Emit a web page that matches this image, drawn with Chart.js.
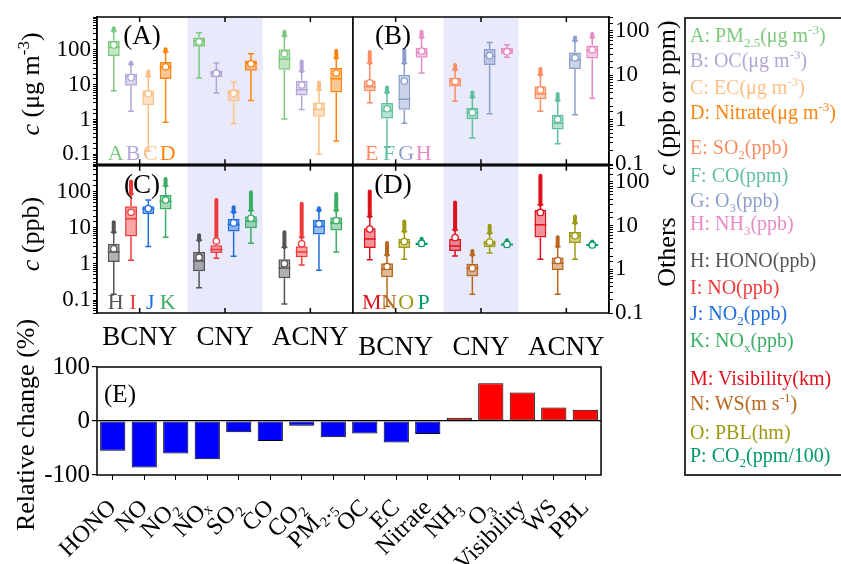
<!DOCTYPE html>
<html>
<head>
<meta charset="utf-8">
<script src="https://cdn.jsdelivr.net/npm/chart.js@4.4.0/dist/chart.umd.min.js"></script>
<style>
body{margin:0;width:841px;height:564px;overflow:hidden;background:#fff;position:relative;font-family:"Liberation Serif","DejaVu Serif",serif}
canvas{position:absolute}
.t{position:absolute;white-space:nowrap;font-size:26px;color:#000;line-height:1;transform:translate(-50%,-50%) rotate(-90deg)}
#legend{position:absolute;left:684px;top:17px;width:180px;height:459px;border:2px solid #333;box-sizing:border-box}
#legend div{position:absolute;left:4px;font-size:20px;line-height:22px;white-space:nowrap}
sub,sup{font-size:65%;line-height:0}
</style>
</head>
<body>
<canvas id="cA" width="353" height="180" style="left:0;top:0"></canvas>
<canvas id="cB" width="313" height="180" style="left:350px;top:0"></canvas>
<canvas id="cC" width="353" height="205" style="left:0;top:150px"></canvas>
<canvas id="cD" width="313" height="214" style="left:350px;top:150px"></canvas>
<canvas id="cE" width="620" height="214" style="left:0;top:350px"></canvas>

<div class="t" style="left:31px;top:84px"><i>c</i> (μg m<sup>-3</sup>)</div>
<div class="t" style="left:31px;top:234px"><i>c</i> (ppb)</div>
<div class="t" style="left:26px;top:425px">Relative change (%)</div>
<div class="t" style="left:667px;top:98px"><i>c</i> (ppb or ppm)</div>
<div class="t" style="left:667px;top:252px">Others</div>

<div id="legend">
  <div style="top:5px;color:#7cc87c">A: PM<sub>2.5</sub>(μg m<sup>-3</sup>)</div>
  <div style="top:30px;color:#b3a6d6">B: OC(μg m<sup>-3</sup>)</div>
  <div style="top:57px;color:#fdbf86">C: EC(μg m<sup>-3</sup>)</div>
  <div style="top:82px;color:#ff8311">D: Nitrate(μg m<sup>-3</sup>)</div>
  <div style="top:117px;color:#fc8d62">E: SO<sub>2</sub>(ppb)</div>
  <div style="top:145px;color:#5fc19b">F: CO(ppm)</div>
  <div style="top:170px;color:#8c9fcb">G: O<sub>3</sub>(ppb)</div>
  <div style="top:193px;color:#e88ac4">H: NH<sub>3</sub>(ppb)</div>
  <div style="top:230px;color:#555555">H: HONO(ppb)</div>
  <div style="top:257px;color:#f03a3a">I: NO(ppb)</div>
  <div style="top:283px;color:#1f6ee0">J: NO<sub>2</sub>(ppb)</div>
  <div style="top:310px;color:#3aae65">K: NO<sub>x</sub>(ppb)</div>
  <div style="top:348px;color:#e0101a">M: Visibility(km)</div>
  <div style="top:373px;color:#b8671d">N: WS(m s<sup>-1</sup>)</div>
  <div style="top:402px;color:#9d9a12">O: PBL(hm)</div>
  <div style="top:425px;color:#009a63">P: CO<sub>2</sub>(ppm/100)</div>
</div>

<script>
const FONT = '"Liberation Serif", "DejaVu Serif", serif';

const periods = ['BCNY', 'CNY', 'ACNY'];

// each row: [low whisker, q1, median, q3, high whisker, max outlier, mean]
const pm25 = [[6.7, 67, 119, 184, 348, 417, 139], [15.5, 124, 177, 225, 312, 312, 170], [1.04, 26.8, 55, 105, 251, 333, 77]];
const oc = [[1.73, 9.35, 17.3, 20.6, 38.5, 43.4, 16.2], [5.8, 16.6, 22.5, 25.6, 41.7, 41.7, 21.4], [1.93, 4.9, 7.2, 13, 24, 46, 9.8]];
const ec = [[0.125, 2.63, 5.2, 6.9, 17.3, 24, 5.5], [0.77, 3.3, 6.0, 7.2, 12, 12, 5.7], [0.1, 1.2, 1.93, 3.1, 7.2, 11.6, 2.4]];
const nitrate = [[0.84, 14.6, 32, 44.5, 89, 105, 32.6], [3.5, 25.2, 41.7, 49.4, 77, 77, 40], [0.24, 6.0, 14.9, 30, 58, 95, 21.6]];

const so2 = [[2.4, 4.4, 5.5, 7.6, 18.6, 33.5, 6.8], [2.6, 5.6, 7.4, 8.7, 13.3, 17.1, 7.3], [1.55, 2.9, 3.8, 5.7, 10.3, 13.8, 4.7]];
const co = [[0.24, 1.07, 1.6, 2.37, 4.1, 5.3, 1.77], [0.39, 1.02, 1.45, 1.84, 3.2, 4.1, 1.45], [0.29, 0.6, 0.83, 1.3, 2.7, 3.8, 1.03]];
const o3 = [[0.83, 1.68, 2.9, 10.3, 18.7, 37.8, 7.4], [1.36, 17, 27, 39, 55, 55, 28], [1.3, 13.8, 22, 32.5, 60, 71, 24.7]];
const nh3 = [[11.2, 24.7, 32, 41.7, 71, 96, 35.2], [25.6, 30, 36, 41, 49, 49, 34], [3.05, 24, 36.5, 47, 71, 84.6, 37.5]];

const hono = [[0.145, 1.13, 2.13, 3.63, 7.6, 14.3, 2.63], [0.22, 0.63, 1.2, 2.13, 4.5, 6.2, 1.54], [0.078, 0.4, 0.77, 1.34, 2.9, 7.6, 1.02]];
const no = [[1.26, 5.75, 17.7, 39.4, 86, 192, 26.9], [1.45, 2.0, 2.5, 3.28, 4.0, 59, 4.3], [0.93, 1.54, 2.13, 3.1, 5.5, 46, 3.63]];
const no2 = [[3.05, 24.2, 33.4, 39.4, 59, 59, 34], [1.63, 7.9, 12.3, 17.7, 26.9, 37, 13.7], [0.67, 6.55, 10.9, 16.6, 30, 34.7, 12.9]];
const nox = [[5.5, 31.9, 54, 81, 146, 224, 59], [3.76, 9.8, 15.2, 20.9, 30, 96, 18.4], [2.13, 8.4, 13.7, 19.6, 30, 86, 15.9]];

const vis = [[1.64, 3.05, 4.9, 8.7, 16.1, 60, 8.3], [2.0, 2.6, 3.4, 4.9, 8.0, 33.6, 5.3], [1.7, 5.3, 10.4, 22.9, 30, 137, 19.9]];
const ws = [[0.14, 0.66, 1.0, 1.38, 2.13, 4.0, 1.16], [0.27, 0.68, 1.06, 1.33, 2.13, 2.6, 1.06], [0.27, 0.96, 1.38, 1.85, 3.3, 5.4, 1.58]];
const pbl = [[1.7, 3.05, 4.1, 5.0, 7.3, 12.4, 4.3], [2.36, 3.2, 3.9, 4.47, 6.7, 9.9, 4.2], [1.7, 4.0, 5.8, 7.1, 11.3, 16.1, 5.8]];
const co2 = [[3.4, 3.6, 3.85, 4.1, 4.4, 5.0, 3.9], [3.3, 3.5, 3.7, 3.9, 4.2, 4.6, 3.7], [3.2, 3.4, 3.6, 3.8, 4.0, 4.3, 3.6]];

const changeLabels = ['HONO', 'NO', 'NO₂', 'NOₓ', 'SO₂', 'CO', 'CO₂', 'PM₂.₅', 'OC', 'EC', 'Nitrate', 'NH₃', 'O₃', 'Visibility', 'WS', 'PBL'];
const changeValues = [-55, -86, -60, -71, -21, -37, -9, -30, -23, -40, -24, 6, 70, 53, 25, 21];

Chart.defaults.color = '#000';
Chart.defaults.animation = false;
Chart.defaults.font.family = FONT;

function rgba(hex, a) {
	let n = parseInt(hex.slice(1), 16);
	return 'rgba(' + (n >> 16) + ',' + ((n >> 8) & 255) + ',' + (n & 255) + ',' + a + ')';
}

//рамка вокруг области графика и внутренние засечки
const framePlugin = {
	id: 'frame',
	afterDraw(chart, args, opts) {
		let ctx = chart.ctx;
		let a = chart.chartArea;
		ctx.save();
		ctx.strokeStyle = '#000';
		ctx.lineWidth = 1.5;
		ctx.strokeRect(a.left, a.top, a.right - a.left, a.bottom - a.top);
		if (opts.innerTicks) {
			let x = chart.scales.x;
			for (let i = 0; i < chart.data.labels.length; i++) {
				let px = x.getPixelForValue(i);
				ctx.beginPath();
				ctx.moveTo(px, a.top);
				ctx.lineTo(px, a.top + 5);
				ctx.moveTo(px, a.bottom);
				ctx.lineTo(px, a.bottom - 5);
				ctx.stroke();
			}
		}
		ctx.restore();
	}
};

//полоса CNY
const shadePlugin = {
	id: 'shade',
	beforeDatasetsDraw(chart) {
		let ctx = chart.ctx;
		let a = chart.chartArea;
		let x = chart.scales.x;
		let c = x.getPixelForValue(1);
		let half = 0.44 * (x.getPixelForValue(1) - x.getPixelForValue(0));
		ctx.save();
		ctx.fillStyle = '#e8eafc';
		ctx.fillRect(c - half, a.top, half * 2, a.bottom - a.top);
		ctx.restore();
	}
};

//усы, выбросы, медиана и среднее
const boxPlugin = {
	id: 'boxes',
	afterDatasetsDraw(chart) {
		let ctx = chart.ctx;
		let y = chart.scales.y;
		ctx.save();
		chart.data.datasets.forEach((ds, di) => {
			let meta = chart.getDatasetMeta(di);
			ds.stats.forEach((s, i) => {
				let bar = meta.data[i];
				let x = bar.x;
				let w = bar.width;
				let [lo, q1, med, q3, hi, max, mean] = s;
				ctx.strokeStyle = ds.borderColor;
				ctx.lineWidth = 1.5;
				ctx.lineCap = 'butt';
				ctx.beginPath();
				ctx.moveTo(x, y.getPixelForValue(lo));
				ctx.lineTo(x, y.getPixelForValue(q1));
				ctx.moveTo(x, y.getPixelForValue(q3));
				ctx.lineTo(x, y.getPixelForValue(hi));
				ctx.moveTo(x - w * 0.25, y.getPixelForValue(lo));
				ctx.lineTo(x + w * 0.25, y.getPixelForValue(lo));
				ctx.moveTo(x - w * 0.25, y.getPixelForValue(hi));
				ctx.lineTo(x + w * 0.25, y.getPixelForValue(hi));
				ctx.moveTo(x - w / 2, y.getPixelForValue(med));
				ctx.lineTo(x + w / 2, y.getPixelForValue(med));
				ctx.stroke();
				if (max > hi) {
					ctx.lineWidth = 4;
					ctx.lineCap = 'round';
					ctx.beginPath();
					ctx.moveTo(x, y.getPixelForValue(hi));
					ctx.lineTo(x, y.getPixelForValue(max));
					ctx.stroke();
				}
				ctx.lineWidth = 1.3;
				ctx.fillStyle = '#fff';
				ctx.beginPath();
				ctx.arc(x, y.getPixelForValue(mean), 3.2, 0, Math.PI * 2);
				ctx.fill();
				ctx.stroke();
			});
		});
		ctx.restore();
	}
};

//подписи панелей, буквы переменных и периоды
const tagPlugin = {
	id: 'tags',
	afterDraw(chart, args, o) {
		let ctx = chart.ctx;
		let a = chart.chartArea;
		ctx.save();
		ctx.fillStyle = '#000';
		ctx.textAlign = 'center';
		ctx.textBaseline = 'middle';
		ctx.font = o.tagSize + 'px ' + FONT;
		ctx.fillText(o.tag, a.left + o.tagX, a.top + o.tagY);
		if (o.periodY) {
			ctx.font = '27px ' + FONT;
			chart.data.labels.forEach((l, i) => {
				ctx.fillText(l, chart.scales.x.getPixelForValue(i), a.bottom + o.periodY);
			});
		}
		if (o.letters) {
			ctx.font = '22px ' + FONT;
			ctx.textBaseline = 'alphabetic';
			o.letters.forEach((l, di) => {
				let bar = chart.getDatasetMeta(di).data[0];
				ctx.fillStyle = chart.data.datasets[di].borderColor;
				ctx.fillText(l, bar.x + 2, a.bottom - 4);
			});
		}
		ctx.restore();
	}
};

function logLabel(v) {
	let l = Math.log10(v);
	if (Math.abs(l - Math.round(l)) > 1e-6) {
		return '';
	}
	return v >= 1 ? String(Math.round(v)) : String(+v.toFixed(1));
}

function boxChart(id, p) {
	let datasets = p.vars.map((stats, i) => ({
		data: stats.map(s => [s[1], s[3]]),
		stats: stats,
		backgroundColor: rgba(p.colors[i], 0.45),
		borderColor: p.colors[i],
		borderWidth: 1.5,
		borderSkipped: false,
		categoryPercentage: 0.81,
		barPercentage: 0.69
	}));

	return new Chart(document.getElementById(id), {
		type: 'bar',
		data: { labels: periods, datasets: datasets },
		plugins: [shadePlugin, boxPlugin, framePlugin, tagPlugin],
		options: {
			responsive: false,
			layout: { autoPadding: false, padding: p.padding },
			plugins: {
				legend: { display: false },
				tooltip: { enabled: false },
				frame: { innerTicks: true },
				tags: { tag: p.tag, tagX: p.tagX, tagY: 20, tagSize: 27, letters: p.letters, periodY: p.periodY }
			},
			scales: {
				x: { display: false },
				y: {
					type: 'logarithmic',
					position: p.side,
					min: p.min,
					max: p.max,
					grid: { drawOnChartArea: false, drawTicks: true, tickLength: 4, color: '#000' },
					border: { display: true, color: '#000', width: 1.5 },
					ticks: { autoSkip: false, font: { size: 23 }, padding: 2, callback: v => logLabel(v) },
					afterFit: s => { s.width = p.side === 'left' ? 97 : 54; }
				}
			}
		}
	});
}

boxChart('cA', {
	vars: [pm25, oc, ec, nitrate],
	colors: ['#7cc87c', '#b3a6d6', '#fdbf86', '#ff8311'],
	letters: ['A', 'B', 'C', 'D'],
	tag: '(A)', tagX: 45, side: 'left', min: 0.052, max: 880,
	padding: { top: 17, bottom: 15, left: 0, right: 0 }
});

boxChart('cB', {
	vars: [so2, co, o3, nh3],
	colors: ['#fc8d62', '#5fc19b', '#8c9fcb', '#e88ac4'],
	letters: ['E', 'F', 'G', 'H'],
	tag: '(B)', tagX: 40, side: 'right', min: 0.1, max: 205,
	padding: { top: 17, bottom: 15, left: 3, right: 0 }
});

boxChart('cC', {
	vars: [hono, no, no2, nox],
	colors: ['#555555', '#f03a3a', '#1f6ee0', '#3aae65'],
	letters: ['H', 'I', 'J', 'K'],
	tag: '(C)', tagX: 45, side: 'left', min: 0.044, max: 520,
	periodY: 25,
	padding: { top: 15, bottom: 42, left: 0, right: 0 }
});

boxChart('cD', {
	vars: [vis, ws, pbl, co2],
	colors: ['#e0101a', '#b8671d', '#9d9a12', '#009a63'],
	letters: ['M', 'N', 'O', 'P'],
	tag: '(D)', tagX: 40, side: 'right', min: 0.1, max: 232,
	periodY: 35,
	padding: { top: 15, bottom: 51, left: 3, right: 0 }
});

new Chart(document.getElementById('cE'), {
	type: 'bar',
	data: {
		labels: changeLabels,
		datasets: [{
			data: changeValues,
			backgroundColor: changeValues.map(v => v < 0 ? '#0000ff' : '#ff0000'),
			borderColor: '#000',
			borderWidth: 1,
			borderSkipped: false,
			categoryPercentage: 1,
			barPercentage: 0.8
		}]
	},
	plugins: [framePlugin, tagPlugin],
	options: {
		responsive: false,
		layout: { autoPadding: false, padding: { top: 17, right: 11, left: 0, bottom: 0 } },
		plugins: {
			legend: { display: false },
			tooltip: { enabled: false },
			frame: { innerTicks: false },
			tags: { tag: '(E)', tagX: 23, tagY: 28, tagSize: 25 }
		},
		scales: {
			x: {
				grid: { drawOnChartArea: false, offset: false, tickLength: 5, color: '#000' },
				border: { display: false },
				ticks: { font: { size: 24 }, minRotation: 45, maxRotation: 45, autoSkip: false, padding: 14 },
				afterFit: s => { s.height = 89; }
			},
			y: {
				min: -100,
				max: 100,
				grid: {
					color: c => c.tick && c.tick.value === 0 ? '#000' : 'rgba(0,0,0,0)',
					tickColor: '#000',
					lineWidth: 1.2,
					tickLength: 5
				},
				border: { display: false },
				ticks: { stepSize: 50, font: { size: 25 }, padding: 2 },
				afterFit: s => { s.width = 97; }
			}
		}
	}
});
</script>
</body>
</html>
